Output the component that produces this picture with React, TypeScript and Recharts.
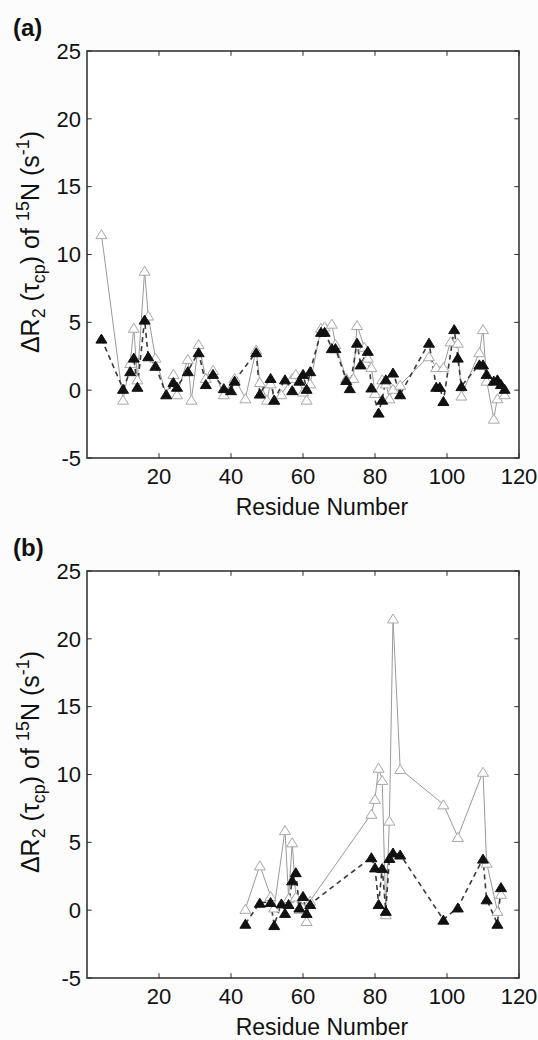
import React from "react";
import { LineChart, Line, XAxis, YAxis, ReferenceArea, ReferenceLine } from "recharts";

// panel (a): residue numbers and ΔR2 values
const aOpenRes = [4, 10, 12, 13, 14, 16, 17, 19, 22, 24, 25, 28, 29, 31, 33, 35, 38, 41, 44, 47, 48, 50, 51, 52, 54, 57, 58, 60, 61, 62, 65, 66, 68, 69, 72, 74, 75, 77, 78, 79, 80, 82, 83, 84, 85, 87, 95, 97, 99, 101, 103, 104, 109, 110, 111, 113, 114, 116];
const aOpenVal = [11.5, -0.7, 2.0, 4.6, 0.8, 8.8, 5.5, 2.4, -0.3, 1.2, -0.3, 2.3, -0.7, 3.4, 0.9, 1.5, -0.3, 0.9, -0.6, 3.0, 0.6, -0.7, 0.5, -0.7, -0.3, 0.9, 1.2, -0.1, -0.7, 0.5, 4.6, 4.7, 4.9, 3.4, 0.9, 0.9, 4.8, 3.2, 2.4, 1.7, -0.2, 0.8, 0.5, -0.6, 0.1, 0.4, 2.5, 1.7, 1.7, 3.6, 3.5, -0.4, 2.8, 4.5, 0.7, -2.1, -0.6, -0.3];
const aFillRes = [4, 10, 12, 13, 14, 16, 17, 19, 22, 24, 25, 28, 31, 33, 35, 38, 40, 41, 47, 48, 51, 52, 55, 57, 59, 60, 61, 62, 65, 66, 68, 69, 72, 73, 75, 76, 78, 79, 81, 82, 83, 85, 87, 95, 97, 98, 99, 102, 103, 104, 109, 110, 111, 113, 114, 115, 116];
const aFillVal = [3.8, 0.1, 1.4, 2.4, 0.25, 5.2, 2.5, 1.8, -0.3, 0.6, 0.25, 1.4, 2.8, 0.45, 1.2, 0.15, 0.0, 0.7, 2.8, -0.25, 0.9, -0.7, 0.8, 0.0, 0.7, 1.2, 0.1, 1.4, 4.3, 4.3, 3.1, 3.1, 0.75, 0.15, 3.5, 1.9, 2.9, 0.2, -1.65, -0.7, 0.8, 1.3, -0.3, 3.5, 0.25, 0.25, -0.8, 4.5, 2.4, 0.3, 1.9, 1.9, 1.2, 0.7, 0.8, 0.45, 0.1];

// panel (b)
const bOpenRes = [44, 48, 51, 52, 55, 56, 57, 58, 59, 60, 61, 62, 79, 80, 81, 82, 83, 84, 85, 87, 99, 103, 110, 111, 114, 115];
const bOpenVal = [0.1, 3.3, 1.05, 0.2, 5.9, 0.9, 5.0, 1.0, 0.1, 0.2, -0.8, 0.7, 7.1, 8.2, 10.5, 9.6, -0.3, 6.6, 21.5, 10.4, 7.8, 5.4, 10.2, 3.5, -0.05, 1.2];
const bFillRes = [44, 48, 51, 52, 54, 55, 56, 57, 58, 59, 60, 61, 62, 79, 80, 81, 82, 83, 84, 85, 87, 99, 103, 110, 111, 114, 115];
const bFillVal = [-1.0, 0.55, 0.6, -1.1, 0.5, -0.2, 0.45, 2.2, 2.8, 0.2, 1.05, -0.2, 0.45, 3.9, 3.15, 0.45, 3.1, -0.05, 3.85, 4.25, 4.1, -0.7, 0.2, 3.8, 0.8, -1.0, 1.7];

const xTicks = [20, 40, 60, 80, 100, 120];
const yTicks = [-5, 0, 5, 10, 15, 20, 25];
const X_MIN = 0;
const X_MAX = 120;
const Y_MIN = -5;
const Y_MAX = 25;

const FONT = "Arial, 'Liberation Sans', Helvetica, sans-serif";
const FRAME = "#2a2a2a";

const toPoints = (res: number[], val: number[]) =>
  res.map((x, i) => ({ x, y: val[i] }));

const triangle = (fill: string, stroke: string, id: string) => (props: any) => {
  const { cx, cy, index } = props;
  if (cx == null || cy == null) return <g key={`${id}-${index}`} />;
  const w = 5.5;
  const h = 4.5;
  return (
    <path
      key={`${id}-${index}`}
      d={`M${cx},${cy - h} L${cx + w},${cy + h} L${cx - w},${cy + h} Z`}
      fill={fill}
      stroke={stroke}
      strokeWidth={1}
    />
  );
};

// short inward tick marks on all four sides (matlab box style)
const tickMarks = () => {
  const dy = 0.35;
  const dx = 1.3;
  const out: React.ReactNode[] = [];
  xTicks.forEach((t) => {
    out.push(
      <ReferenceLine key={`xb${t}`} segment={[{ x: t, y: Y_MIN }, { x: t, y: Y_MIN + dy }]} stroke={FRAME} ifOverflow="visible" />,
      <ReferenceLine key={`xt${t}`} segment={[{ x: t, y: Y_MAX }, { x: t, y: Y_MAX - dy }]} stroke={FRAME} ifOverflow="visible" />
    );
  });
  yTicks.forEach((t) => {
    out.push(
      <ReferenceLine key={`yl${t}`} segment={[{ x: X_MIN, y: t }, { x: X_MIN + dx, y: t }]} stroke={FRAME} ifOverflow="visible" />,
      <ReferenceLine key={`yr${t}`} segment={[{ x: X_MAX, y: t }, { x: X_MAX - dx, y: t }]} stroke={FRAME} ifOverflow="visible" />
    );
  });
  return out;
};

const sub = { fontSize: 18 };

function Panel({
  letter,
  openRes,
  openVal,
  fillRes,
  fillVal,
  top,
}: {
  letter: string;
  openRes: number[];
  openVal: number[];
  fillRes: number[];
  fillVal: number[];
  top: number;
}) {
  const openData = toPoints(openRes, openVal);
  const fillData = toPoints(fillRes, fillVal);
  return (
    <div style={{ position: "absolute", left: 0, top, width: 538, height: 520 }}>
      <LineChart
        width={538}
        height={520}
        margin={{ top: 51, right: 19, bottom: 22, left: 27 }}
      >
        <XAxis
          dataKey="x"
          type="number"
          domain={[X_MIN, X_MAX]}
          ticks={xTicks}
          allowDataOverflow
          height={40}
          tickLine={false}
          tickSize={0}
          tickMargin={10}
          tick={{ fill: "#111", fontSize: 22, fontFamily: FONT }}
          axisLine={false}
        />
        <YAxis
          type="number"
          domain={[Y_MIN, Y_MAX]}
          ticks={yTicks}
          allowDataOverflow
          width={60}
          tickLine={false}
          tickSize={0}
          tickMargin={6}
          tick={{ fill: "#111", fontSize: 22, fontFamily: FONT }}
          axisLine={false}
        />
        <ReferenceArea
          x1={X_MIN}
          x2={X_MAX}
          y1={Y_MIN}
          y2={Y_MAX}
          fill="#ffffff"
          fillOpacity={1}
          stroke={FRAME}
          strokeWidth={1.5}
          ifOverflow="visible"
        />
        {tickMarks()}
        <Line
          data={openData}
          dataKey="y"
          stroke="#9a9a9a"
          strokeWidth={1}
          dot={triangle("#ffffff", "#a8a8a8", `${letter}-open`)}
          isAnimationActive={false}
        />
        <Line
          data={fillData}
          dataKey="y"
          stroke="#3a3a3a"
          strokeWidth={1.6}
          strokeDasharray="5 4"
          dot={triangle("#111111", "#111111", `${letter}-fill`)}
          isAnimationActive={false}
        />
      </LineChart>
      <div
        style={{
          position: "absolute",
          left: 13,
          top: 16,
          fontFamily: FONT,
          fontWeight: "bold",
          fontSize: 24,
          lineHeight: 1,
          color: "#111",
        }}
      >
        ({letter})
      </div>
      <div
        style={{
          position: "absolute",
          left: 31,
          top: 242,
          transform: "translate(-50%, -50%) rotate(-90deg)",
          whiteSpace: "nowrap",
          fontFamily: FONT,
          fontSize: 25,
          lineHeight: 1,
          color: "#111",
        }}
      >
        ΔR<sub style={sub}>2</sub> (τ<sub style={sub}>cp</sub>) of <sup style={sub}>15</sup>N (s<sup style={sub}>-1</sup>)
      </div>
      <div
        style={{
          position: "absolute",
          left: 322,
          top: 507,
          transform: "translate(-50%, -50%)",
          whiteSpace: "nowrap",
          fontFamily: FONT,
          fontSize: 23,
          lineHeight: 1,
          color: "#111",
        }}
      >
        Residue Number
      </div>
    </div>
  );
}

export default function App() {
  return (
    <div
      style={{
        position: "absolute",
        left: 0,
        top: 0,
        width: 538,
        height: 1040,
        background: "#fcfcfc",
        overflow: "hidden",
      }}
    >
      <Panel letter="a" openRes={aOpenRes} openVal={aOpenVal} fillRes={aFillRes} fillVal={aFillVal} top={0} />
      <Panel letter="b" openRes={bOpenRes} openVal={bOpenVal} fillRes={bFillRes} fillVal={bFillVal} top={520} />
    </div>
  );
}
